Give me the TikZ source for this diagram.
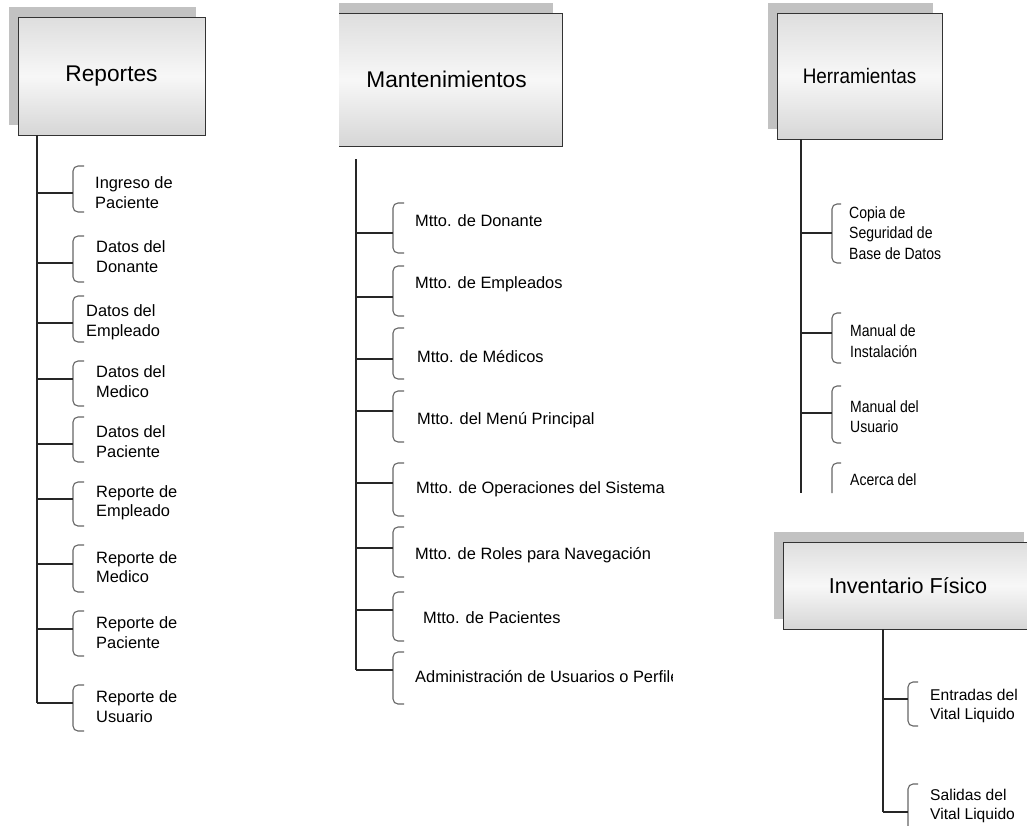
\documentclass[tikz,border=0pt]{standalone}
\usepackage{fontspec}
\setmainfont{Liberation Sans}
\newfontfamily\narrowsans{Liberation Sans}[FakeStretch=0.86]
\newfontfamily\titlenarrow{Liberation Sans}[FakeStretch=0.9]
\usetikzlibrary{shadows}

\begin{document}
\begin{tikzpicture}[x=1pt,y=-1pt,
  titlebox/.style={draw=black!80, line width=0.9pt, inner sep=0pt,
    top color=black!13, bottom color=black!16, middle color=black!3,
    text=black,
    general shadow={fill=black!24, shadow xshift=-9pt, shadow yshift=10pt}},
  conn/.style={draw=black!85, line width=1.1pt},
  brk/.style={draw=black!60, line width=1.1pt, rounded corners=5pt},
  item/.style={anchor=west, inner sep=0pt, align=left, text=black,
    font=\fontsize{16.4}{19.5}\selectfont},
  narrowitem/.style={item, font=\narrowsans\fontsize{16.3}{20.5}\selectfont},
  invitem/.style={item, font=\fontsize{15.6}{19}\selectfont}]

\clip (0,0) rectangle (1027,825);
\fill[white] (0,0) rectangle (1027,825);

% ---------- Reportes ----------
\node[titlebox, minimum width=187pt, minimum height=118pt,
  font=\fontsize{22.7}{27}\selectfont] (rep) at (111.5,76) {Reportes};
\coordinate (repT) at (37,135);
\foreach \n/\yc/\yt/\yb/\tx/\ty/\txt in {
  1/193/166/212/95/192.5/{Ingreso de\\Paciente},
  2/263/236/282/96/256.5/{Datos del\\Donante},
  3/323/296/342/86/322.5/{Datos del\\Empleado},
  4/379/361/406/96/381.5/{Datos del\\Medico},
  5/444/417/462/96/441.5/{Datos del\\Paciente},
  6/499/482/526/96/502.5/{Reporte de\\Empleado},
  7/564/545/592/96/567/{Reporte de\\Medico},
  8/629/611/656/96/632.5/{Reporte de\\Paciente},
  9/703/685/731/96/706.5/{Reporte de\\Usuario}}
{
  \coordinate (rb\n) at (73,\yc);
  \draw[brk] (84,\yt) -- (73,\yt) -- (73,\yb) -- (84,\yb);
  \draw[conn] (repT |- rb\n) -- (rb\n);
  \node[item] (rt\n) at (\tx,\ty) {\txt};
}
\draw[conn] (repT) -- (repT |- rb9);

% ---------- Mantenimientos ----------
\begin{scope}
  \clip (339,0) rectangle (600,160);
  \node[titlebox, minimum width=231pt, minimum height=133pt,
    font=\fontsize{22.7}{27}\selectfont] (man) at (446.5,79.5) {Mantenimientos};
\end{scope}
\coordinate (manT) at (356,159);
\foreach \n/\yc/\yt/\yb/\tx/\ty/\txt in {
  1/233/203/253/415/221/{Mtto. de Donante},
  2/297/266/316/415/284/{Mtto. de Empleados},
  3/359/328/379/417/357/{Mtto. de Médicos},
  4/411/391/442/417/420/{Mtto. del Menú Principal},
  5/483/463/516/416/489/{Mtto. de Operaciones del Sistema},
  6/548/527/577/415/555/{Mtto. de Roles para Navegación},
  7/610/592/641/423/618/{Mtto. de Pacientes}}
{
  \coordinate (mb\n) at (393,\yc);
  \draw[brk] (404,\yt) -- (393,\yt) -- (393,\yb) -- (404,\yb);
  \draw[conn] (manT |- mb\n) -- (mb\n);
  \node[item] (mt\n) at (\tx,\ty) {\txt};
}
\coordinate (mb8) at (393,670);
\draw[brk] (404,652) -- (393,652) -- (393,704) -- (404,704);
\draw[conn] (manT |- mb8) -- (mb8);
\begin{scope}
  \clip (400,640) rectangle (672,720);
  \node[item] (mt8) at (415,677) {Administración de Usuarios o Perfiles};
\end{scope}
\draw[conn] (manT) -- (manT |- mb8);

% ---------- Herramientas ----------
\node[titlebox, minimum width=165pt, minimum height=126pt,
  font=\titlenarrow\fontsize{21}{25}\selectfont] (her) at (859.5,76) {Herramientas};
\coordinate (herT) at (801,139);
\foreach \n/\yc/\yt/\yb/\tx/\ty/\txt in {
  1/233/204/263/849/233/{Copia de\\Seguridad de\\Base de Datos},
  2/333/313/363/850/341/{Manual de\\Instalación},
  3/413/386/443/850/416.5/{Manual del\\Usuario}}
{
  \coordinate (hb\n) at (832,\yc);
  \draw[brk] (841,\yt) -- (832,\yt) -- (832,\yb) -- (841,\yb);
  \draw[conn] (herT |- hb\n) -- (hb\n);
  \node[narrowitem] (ht\n) at (\tx,\ty) {\txt};
}
\coordinate (hb4) at (832,493);
\draw[brk] (841,463) -- (832,463) -- (hb4);
\node[narrowitem] (ht4) at (850,480) {Acerca del};
\draw[conn] (herT) -- (herT |- hb4);

% ---------- Inventario Físico ----------
\node[titlebox, minimum width=250pt, minimum height=87pt,
  font=\fontsize{21.6}{26}\selectfont] (inv) at (908,585.5) {Inventario Físico};
\coordinate (invT) at (883,629);
\foreach \n/\yc/\yt/\yb/\tx/\ty/\txt in {
  1/699/682/726/930/706/{Entradas del\\Vital Liquido},
  2/812/784/840/930/805.5/{Salidas del\\Vital Liquido}}
{
  \coordinate (ib\n) at (908,\yc);
  \draw[brk] (918,\yt) -- (908,\yt) -- (908,\yb) -- (918,\yb);
  \draw[conn] (invT |- ib\n) -- (ib\n);
  \node[invitem] (it\n) at (\tx,\ty) {\txt};
}
\draw[conn] (invT) -- (invT |- ib2);

\end{tikzpicture}
\end{document}
